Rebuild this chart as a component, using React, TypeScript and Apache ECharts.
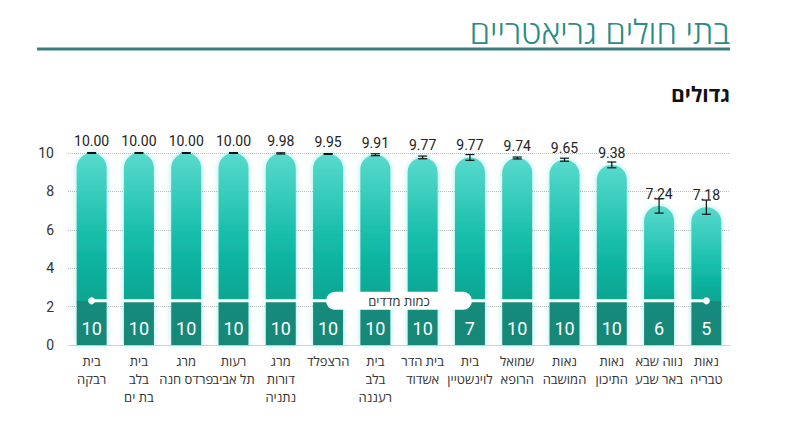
import React, { useEffect, useRef } from "react";
import * as echarts from "echarts";

const TITLE = "בתי חולים גריאטריים";
const SUBTITLE = "גדולים";
const STRIP_LABEL = "כמות מדדים";
const CATEGORIES = [
  "בית\nרבקה",
  "בית\nבלב\nבת ים",
  "מרג\nפרדס חנה",
  "רעות\nתל אביב",
  "מרג\nדורות\nנתניה",
  "הרצפלד",
  "בית\nבלב\nרעננה",
  "בית הדר\nאשדוד",
  "בית\nלוינשטיין",
  "שמואל\nהרופא",
  "נאות\nהמושבה",
  "נאות\nהתיכון",
  "נווה שבא\nבאר שבע",
  "נאות\nטבריה",
];
const VALUES = [10, 10, 10, 10, 9.98, 9.95, 9.91, 9.77, 9.77, 9.74, 9.65, 9.38, 7.24, 7.18];
const ERRORS = [0.02, 0.02, 0.02, 0.02, 0.03, 0.02, 0.05, 0.07, 0.15, 0.05, 0.08, 0.15, 0.37, 0.37];
const COUNTS = [10, 10, 10, 10, 10, 10, 10, 10, 7, 10, 10, 10, 6, 5];
const Y_TICKS = [0, 2, 4, 6, 8, 10];
const STRIP_LEVEL = 2.3;

const FONT = "Roboto, 'Open Sans', 'DejaVu Sans', sans-serif";
const HFONT = "'Open Sans', 'DejaVu Sans', sans-serif";

export default function App() {
  const ref = useRef<HTMLDivElement>(null);
  useEffect(() => {
    if (!ref.current) return;
    const chart = echarts.init(ref.current, undefined, { renderer: "svg" });
    const last = CATEGORIES.length - 1;
    const barData = VALUES.map((v, i) => {
      const cut = 1 - STRIP_LEVEL / v;
      return {
        value: v,
        itemStyle: {
          color: new echarts.graphic.LinearGradient(0, 0, 0, 1, [
            { offset: 0, color: "#58dacd" },
            { offset: 0.45, color: "#14bca8" },
            { offset: Math.max(cut - 0.001, 0), color: "#07a592" },
            { offset: cut, color: "#178b7c" },
            { offset: 1, color: "#168777" },
          ]),
        },
        label: { formatter: String(COUNTS[i]) },
      };
    });
    chart.setOption({
      animation: false,
      textStyle: { fontFamily: FONT },
      grid: { left: 68, right: 63, top: 153, bottom: 101 },
      xAxis: {
        type: "category",
        data: CATEGORIES,
        axisLine: { lineStyle: { color: "#cfcfcf", width: 1 } },
        axisTick: { show: false },
        axisLabel: {
          interval: 0,
          color: "#333",
          fontSize: 13,
          lineHeight: 18,
          margin: 7,
          fontFamily: HFONT,
        },
      },
      yAxis: {
        type: "value",
        min: Y_TICKS[0],
        max: Y_TICKS[Y_TICKS.length - 1],
        interval: 2,
        axisLine: { show: false },
        axisTick: { show: false },
        axisLabel: { color: "#333", fontSize: 14, margin: 14 },
        splitLine: { lineStyle: { type: "dotted", color: "#bdbdbd" } },
      },
      series: [
        {
          type: "bar",
          data: barData,
          barWidth: 30,
          itemStyle: {
            borderRadius: [15, 15, 0, 0],
            shadowBlur: 6,
            shadowColor: "rgba(90,225,215,0.55)",
          },
          label: {
            show: true,
            position: "insideBottom",
            distance: 8,
            color: "#fff",
            fontSize: 18,
          },
          z: 2,
        },
        {
          type: "line",
          data: CATEGORIES.map((_, i) => ({
            value: STRIP_LEVEL,
            symbol: i === 0 || i === last ? "circle" : "none",
          })),
          symbolSize: 7,
          showAllSymbol: true,
          itemStyle: { color: "#fff" },
          lineStyle: { color: "#fff", width: 3 },
          z: 4,
          silent: true,
        },
        {
          type: "custom",
          data: VALUES.map((v, i) => [i, v, ERRORS[i]]),
          z: 5,
          renderItem: (params: any, api: any) => {
            const i = api.value(0);
            const v = api.value(1);
            const e = api.value(2);
            const top = api.coord([i, v + e]);
            const bot = api.coord([i, v - e]);
            const mid = api.coord([i, v]);
            const hw = 4.5;
            const st = { stroke: "#111", lineWidth: 1.2 };
            return {
              type: "group",
              children: [
                { type: "line", shape: { x1: top[0], y1: top[1], x2: bot[0], y2: bot[1] }, style: st },
                { type: "line", shape: { x1: top[0] - hw, y1: top[1], x2: top[0] + hw, y2: top[1] }, style: st },
                { type: "line", shape: { x1: bot[0] - hw, y1: bot[1], x2: bot[0] + hw, y2: bot[1] }, style: st },
                {
                  type: "text",
                  x: mid[0],
                  y: mid[1] - 12,
                  style: {
                    text: v.toFixed(2),
                    align: "center",
                    verticalAlign: "middle",
                    fontSize: 14,
                    fill: "#222",
                    fontFamily: FONT,
                  },
                },
              ],
            };
          },
        },
      ],
    });
    const a = chart.convertToPixel({ gridIndex: 0 }, [6, STRIP_LEVEL]) as number[];
    const b = chart.convertToPixel({ gridIndex: 0 }, [7, STRIP_LEVEL]) as number[];
    const cx = (a[0] + b[0]) / 2;
    const cy = a[1];
    const pw = 146;
    const ph = 18;
    chart.setOption({
      graphic: [
        {
          type: "text",
          x: 730,
          y: 31,
          style: {
            text: TITLE,
            align: "right",
            verticalAlign: "middle",
            fontSize: 33,
            fontWeight: 300,
            fill: "#2a8c82",
            fontFamily: HFONT,
          },
        },
        {
          type: "line",
          shape: { x1: 37, y1: 49, x2: 730, y2: 49 },
          style: { stroke: "#3b7d78", lineWidth: 3 },
        },
        {
          type: "text",
          x: 730,
          y: 94,
          style: {
            text: SUBTITLE,
            align: "right",
            verticalAlign: "middle",
            fontSize: 21,
            fontWeight: "bold",
            fill: "#111",
            fontFamily: HFONT,
          },
        },
        {
          type: "rect",
          shape: { x: cx - pw / 2, y: cy - ph / 2, width: pw, height: ph, r: ph / 2 },
          style: { fill: "#fff" },
          z: 10,
        },
        {
          type: "text",
          x: cx,
          y: cy,
          style: {
            text: STRIP_LABEL,
            align: "center",
            verticalAlign: "middle",
            fontSize: 13,
            fill: "#333",
            fontFamily: HFONT,
          },
          z: 11,
        },
      ],
    });
    return () => chart.dispose();
  }, []);
  return <div ref={ref} style={{ width: 793, height: 446, position: "absolute", left: 0, top: 0 }} />;
}
